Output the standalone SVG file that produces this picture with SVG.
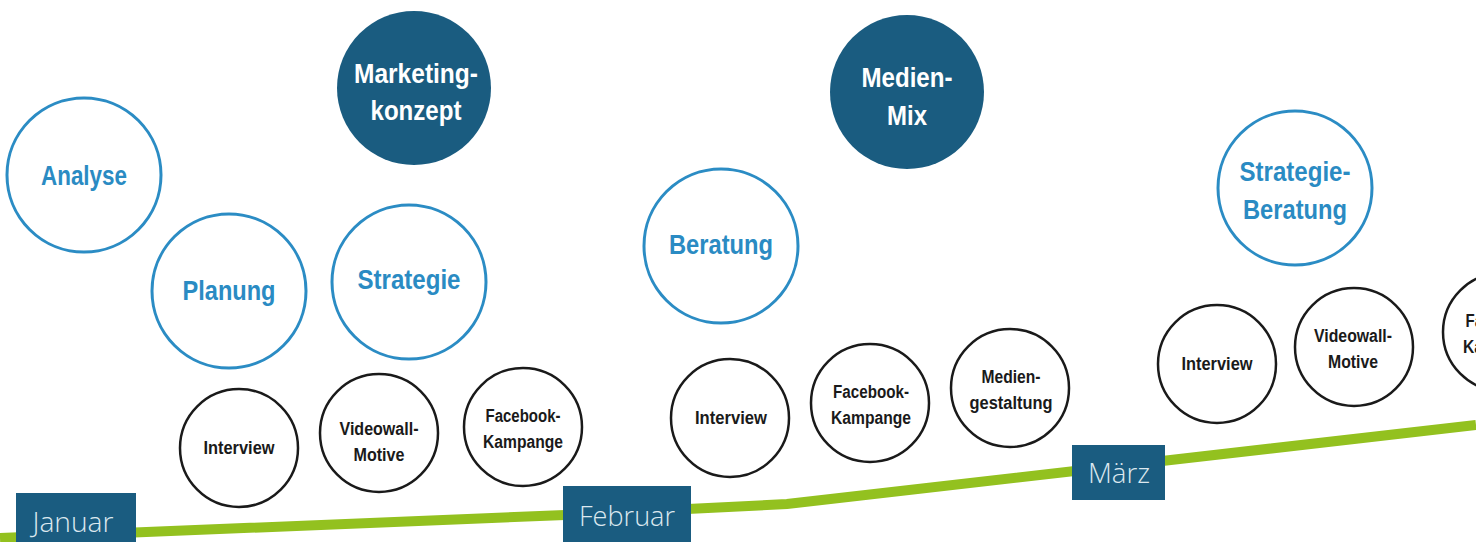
<svg xmlns="http://www.w3.org/2000/svg" width="1476" height="542" viewBox="0 0 1476 542">
<style>
.b{fill:#fff;stroke:#2b8cc4;stroke-width:3}
.d{fill:#1a5c80}
.k{fill:#fff;stroke:#1a1a1a;stroke-width:2.5}
text{text-anchor:middle}
.tb,.tw,.tk{font-family:"Liberation Sans",Arial,sans-serif;font-weight:bold}
.tb{font-size:28px;fill:#2a8bc3}
.tw{font-size:28px;fill:#fff}
.tk{font-size:18px;fill:#1a1a1a}
.m{fill:#1a5c80}
.tm{font-family:"Open Sans","Noto Sans",sans-serif;font-weight:300;font-size:28px;fill:#dce8ef}
</style>
<g id="connectors">
<polyline points="0,538 565,515 787,504 1476,425" fill="none" stroke="#93c11f" stroke-width="10"/>
</g>
<g id="analyse"><circle class="b" cx="84" cy="175" r="77"/><text class="tb" x="84" y="185" textLength="86" lengthAdjust="spacingAndGlyphs">Analyse</text></g>
<g id="planung"><circle class="b" cx="229" cy="291" r="77"/><text class="tb" x="229" y="300" textLength="93" lengthAdjust="spacingAndGlyphs">Planung</text></g>
<g id="strategie"><circle class="b" cx="409" cy="282" r="77"/><text class="tb" x="409" y="289" textLength="103" lengthAdjust="spacingAndGlyphs">Strategie</text></g>
<g id="marketingkonzept"><circle class="d" cx="414" cy="88" r="77"/><text class="tw" x="416" y="83" textLength="124" lengthAdjust="spacingAndGlyphs">Marketing-</text><text class="tw" x="416" y="120" textLength="91" lengthAdjust="spacingAndGlyphs">konzept</text></g>
<g id="medienmix"><circle class="d" cx="907" cy="92" r="77"/><text class="tw" x="907" y="87" textLength="91" lengthAdjust="spacingAndGlyphs">Medien-</text><text class="tw" x="907" y="125" textLength="40" lengthAdjust="spacingAndGlyphs">Mix</text></g>
<g id="beratung"><circle class="b" cx="721" cy="246" r="77"/><text class="tb" x="721" y="254" textLength="104" lengthAdjust="spacingAndGlyphs">Beratung</text></g>
<g id="strategieberatung"><circle class="b" cx="1295" cy="188" r="77"/><text class="tb" x="1295" y="181" textLength="111" lengthAdjust="spacingAndGlyphs">Strategie-</text><text class="tb" x="1295" y="219" textLength="104" lengthAdjust="spacingAndGlyphs">Beratung</text></g>
<g id="interview1"><circle class="k" cx="239" cy="448" r="59"/><text class="tk" x="239" y="454" textLength="71" lengthAdjust="spacingAndGlyphs">Interview</text></g>
<g id="videowall1"><circle class="k" cx="379" cy="433" r="59"/><text class="tk" x="379" y="435" textLength="79" lengthAdjust="spacingAndGlyphs">Videowall-</text><text class="tk" x="379" y="461" textLength="51" lengthAdjust="spacingAndGlyphs">Motive</text></g>
<g id="facebook1"><circle class="k" cx="523" cy="427" r="59"/><text class="tk" x="523" y="422" textLength="75" lengthAdjust="spacingAndGlyphs">Facebook-</text><text class="tk" x="523" y="448" textLength="80" lengthAdjust="spacingAndGlyphs">Kampange</text></g>
<g id="interview2"><circle class="k" cx="730" cy="418" r="59"/><text class="tk" x="731" y="424" textLength="72" lengthAdjust="spacingAndGlyphs">Interview</text></g>
<g id="facebook2"><circle class="k" cx="870" cy="403" r="59"/><text class="tk" x="871" y="398" textLength="76" lengthAdjust="spacingAndGlyphs">Facebook-</text><text class="tk" x="871" y="424" textLength="80" lengthAdjust="spacingAndGlyphs">Kampange</text></g>
<g id="mediengestaltung"><circle class="k" cx="1010" cy="388" r="59"/><text class="tk" x="1011" y="383" textLength="59" lengthAdjust="spacingAndGlyphs">Medien-</text><text class="tk" x="1011" y="409" textLength="83" lengthAdjust="spacingAndGlyphs">gestaltung</text></g>
<g id="interview3"><circle class="k" cx="1217" cy="364" r="59"/><text class="tk" x="1217" y="370" textLength="71" lengthAdjust="spacingAndGlyphs">Interview</text></g>
<g id="videowall2"><circle class="k" cx="1354" cy="347" r="59"/><text class="tk" x="1353" y="342" textLength="78" lengthAdjust="spacingAndGlyphs">Videowall-</text><text class="tk" x="1353" y="368" textLength="50" lengthAdjust="spacingAndGlyphs">Motive</text></g>
<g id="facebook3"><circle class="k" cx="1502" cy="332" r="59"/><text class="tk" x="1503" y="327" textLength="75" lengthAdjust="spacingAndGlyphs">Facebook-</text><text class="tk" x="1503" y="353" textLength="80" lengthAdjust="spacingAndGlyphs">Kampange</text></g>
<g id="januar"><rect class="m" x="16" y="493" width="120" height="55"/><text class="tm" x="73" y="532" textLength="81" lengthAdjust="spacingAndGlyphs">Januar</text></g>
<g id="februar"><rect class="m" x="563" y="486" width="128" height="60"/><text class="tm" x="627" y="526" textLength="96" lengthAdjust="spacingAndGlyphs">Februar</text></g>
<g id="maerz"><rect class="m" x="1072" y="445" width="93" height="55"/><text class="tm" x="1119" y="483" textLength="62" lengthAdjust="spacingAndGlyphs">März</text></g>
</svg>
